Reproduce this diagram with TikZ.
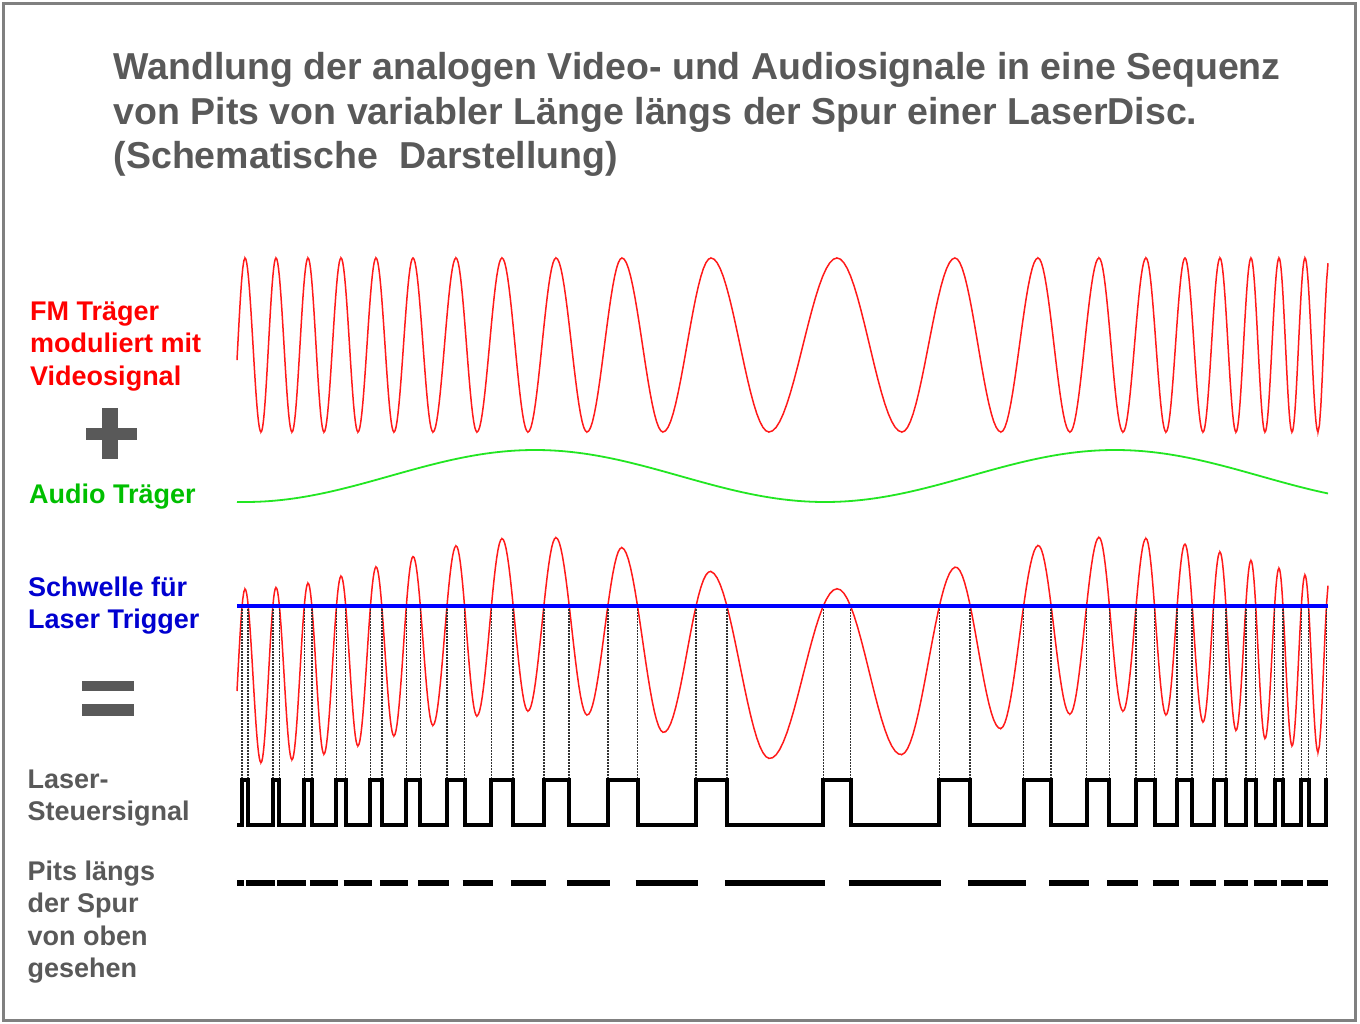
\documentclass[tikz,border=0pt]{standalone}
\usepackage{fontspec}
\setmainfont{Liberation Sans}
\usetikzlibrary{intersections,calc}
\definecolor{tgray}{HTML}{595959}
\definecolor{fgray}{HTML}{808080}
\definecolor{fmred}{HTML}{FF1A1A}
\definecolor{lblred}{HTML}{FF0000}
\definecolor{audgreen}{HTML}{22E622}
\definecolor{lblgreen}{HTML}{00BF00}
\definecolor{thrblue}{HTML}{0000FF}
\definecolor{lblblue}{HTML}{0000D0}
\tikzset{
  titletext/.style={anchor=base west, inner sep=0pt, font=\fontsize{37.5}{45}\selectfont\bfseries, text=tgray},
  lbl/.style={anchor=base west, inner sep=0pt, font=\fontsize{27}{32}\selectfont\bfseries},
  fmwave/.style={fmred, line width=1.5pt},
  audiowave/.style={audgreen, line width=1.8pt},
  thrline/.style={thrblue, line width=4pt},
  guide/.style={black!80, line width=1.5pt, dash pattern=on 1.7pt off 1.3pt},
  sqwave/.style={black, line width=4pt, line join=miter},
  pit/.style={black, line width=6pt, line cap=butt},
  symbar/.style={fill=tgray, draw=none}
}
\def\halfcycles{245/261,261/276,276/292,292/308,308/324,324/341,341/358,358/376,376/394,394/413,413/433,433/456,456/477,477/502,502/528,528/556,556/587,587/622,622/663,663/711,711/769,769/837,837/902,902/955,955/1001,1001/1038,1038/1070,1070/1099,1099/1123,1123/1146,1146/1166,1166/1185,1185/1203,1203/1220,1220/1236,1236/1251,1251/1265,1265/1279,1279/1292,1292/1305,1305/1318}
\begin{document}
\begin{tikzpicture}[x=1pt,y=-1pt]
\useasboundingbox (0,0) rectangle (1360,1024);
\fill[white] (0,0) rectangle (1360,1024);
\draw[fgray, line width=3pt] (3.5,3.5) rectangle (1355.5,1020.5);

% title
\node[titletext] (t1) at (113.5,80) {Wandlung der analogen Video- und Audiosignale in eine Sequenz};
\node[titletext] (t2) at (113.5,124.5) {von Pits von variabler Länge längs der Spur einer LaserDisc.};
\node[titletext] (t3) at (113.5,169) {(Schematische\ \ Darstellung)};

% labels
\node[lbl, text=lblred] (l1) at (30,320) {FM Träger};
\node[lbl, text=lblred] (l2) at (30,352.5) {moduliert mit};
\node[lbl, text=lblred] (l3) at (30,385) {Videosignal};
\node[lbl, text=lblgreen] (l4) at (29,503.5) {Audio Träger};
\node[lbl, text=lblblue] (l5) at (28,596) {Schwelle für};
\node[lbl, text=lblblue] (l6) at (28,628.5) {Laser Trigger};
\node[lbl, text=tgray] (l7) at (27.5,788) {Laser-};
\node[lbl, text=tgray] (l8) at (27.5,820) {Steuersignal};
\node[lbl, text=tgray] (l9) at (27.5,880) {Pits längs};
\node[lbl, text=tgray] (l10) at (27.5,912.5) {der Spur};
\node[lbl, text=tgray] (l11) at (27.5,945) {von oben};
\node[lbl, text=tgray] (l12) at (27.5,977.5) {gesehen};

% plus and equals
\fill[symbar] (86,427.5) rectangle (137,439.5);
\fill[symbar] (102,408) rectangle (118,458.5);
\fill[symbar] (82,681) rectangle (134,690.5);
\fill[symbar] (82,704) rectangle (134,715.5);

% FM carrier
\draw[fmwave] plot[domain=237:245, samples=8] (\x,{345-87*cos(-100+100*((\x-237)/8))})
  \foreach \a/\b [count=\k from 0] in \halfcycles {
    -- plot[domain=\a:\b, samples=20] (\x,{345-87*cos(180*\k+180*((\x-\a)/(\b-\a)))}) }
  -- plot[domain=1318:1328, samples=8] (\x,{345-87*cos(7380+160*((\x-1318)/10))});

% audio carrier
\draw[audiowave] plot[domain=237:1328, samples=150, smooth] (\x,{476-26*cos(360*((\x-535)/580))});

% sum signal
\draw[fmwave, name path=sum] plot[domain=237:245, samples=8] (\x,{650-87*cos(-100+100*((\x-237)/8))-26*cos(360*((\x-535)/580))})
  \foreach \a/\b [count=\k from 0] in \halfcycles {
    -- plot[domain=\a:\b, samples=20] (\x,{650-87*cos(180*\k+180*((\x-\a)/(\b-\a)))-26*cos(360*((\x-535)/580))}) }
  -- plot[domain=1318:1328, samples=8] (\x,{650-87*cos(7380+160*((\x-1318)/10))-26*cos(360*((\x-535)/580))});

% threshold
\coordinate (thrL) at (237,606);
\coordinate (thrR) at (1328,606);
\path[name path=thr] (thrL) -- (thrR);
\path[name intersections={of=sum and thr, name=c, total=\t, sort by=thr}] \pgfextra{\xdef\nc{\t}};
\pgfmathtruncatemacro\np{(\nc-1)/2}

\coordinate (hi) at (0,780);
\coordinate (lo) at (0,825);
\coordinate (pitrow) at (0,883);
\coordinate (sqstart) at (237,825);
\coordinate (sqend) at (1328,780);
\coordinate (pitstart) at (237,883);

\foreach \i in {1,...,\nc} \draw[guide] (c-\i) -- (c-\i |- hi);

\draw[thrline] (thrL) -- (thrR);

% laser control signal
\draw[sqwave] (sqstart)
  \foreach \i [evaluate=\i as \m using int(2*\i-1), evaluate=\i as \j using int(2*\i)] in {1,...,\np} {
    -| (c-\m |- hi) -| (c-\j |- lo) }
  -| (c-\nc |- hi) -- (sqend);

% pits
\draw[pit] let \p1=(c-1), \p3=(pitrow) in (pitstart) -- (\x1+1.5pt,\y3);
\foreach \i [evaluate=\i as \j using int(2*\i), evaluate=\i as \m using int(2*\i+1)] in {1,...,\np}
  \draw[pit] let \p1=(c-\j), \p2=(c-\m), \p3=(pitrow) in (\x1-2pt,\y3) -- (\x2+2pt,\y3);
\end{tikzpicture}
\end{document}
